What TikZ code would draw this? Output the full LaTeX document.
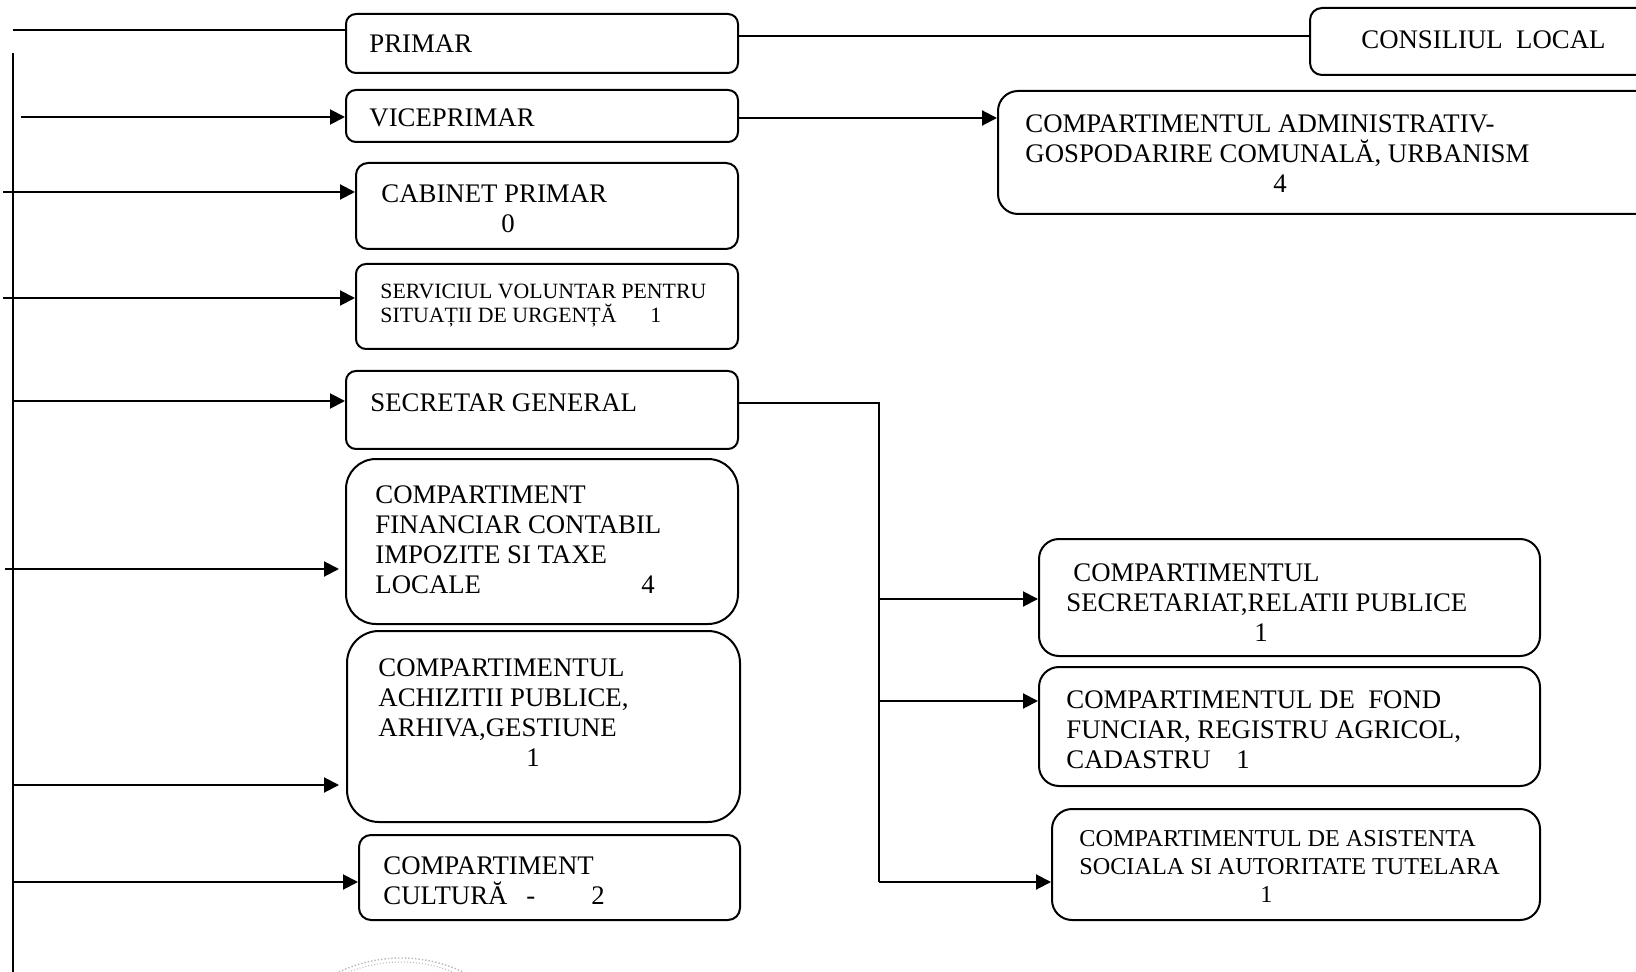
\documentclass[tikz,border=0pt]{standalone}
\usepackage{fontspec}
\setmainfont{Liberation Serif}
\usetikzlibrary{arrows.meta}

\begin{document}
\begin{tikzpicture}[x=0.5pt, y=-0.5pt,
        box/.style={draw, line width=1pt, rounded corners=5pt, inner sep=0pt},
        lbl/.style={anchor=north west, inner sep=0pt, align=left, font=\fontsize{13.4}{15}\selectfont},
        arr/.style={line width=1pt, -{Triangle[length=7.5pt, width=7.5pt]}}]
            \clip (0, 0) rectangle (1636, 972);
            \fill[white] (0, 0) rectangle (1636, 972);

            % left column
            \node[box, minimum width=196pt, minimum height=29.5pt] (primar) at (542, 43.5) {};
            \node[box, minimum width=196pt, minimum height=26pt] (vice) at (542, 116) {};
            \node[box, rounded corners=6pt, minimum width=191pt, minimum height=43pt] (cabinet) at (547, 206) {};
            \node[box, minimum width=191pt, minimum height=42.5pt] (serviciu) at (547, 306.5) {};
            \node[box, minimum width=196pt, minimum height=39pt] (secretar) at (542, 410) {};
            \node[box, rounded corners=15pt, minimum width=196pt, minimum height=82.5pt] (financiar) at (542, 541.5) {};
            \node[box, rounded corners=16pt, minimum width=196.5pt, minimum height=95.5pt] (achizitii) at (543.5, 726.5) {};
            \node[box, rounded corners=6pt, minimum width=190.5pt, minimum height=42.5pt] (cultura) at (549.5, 877.5) {};

            % right column
            \node[box, rounded corners=6pt, minimum width=185pt, minimum height=33.5pt] (consiliu) at (1495, 41.5) {};
            \node[box, rounded corners=10pt, minimum width=341pt, minimum height=61.5pt] (admin) at (1339, 152.5) {};
            \node[box, rounded corners=10pt, minimum width=250.5pt, minimum height=58.5pt] (secretariat) at (1289.5, 597.5) {};
            \node[box, rounded corners=10pt, minimum width=250.5pt, minimum height=59.5pt] (fond) at (1289.5, 726.5) {};
            \node[box, rounded corners=10pt, minimum width=244pt, minimum height=55.5pt] (asist) at (1296, 864.5) {};

            \node[lbl] (tprimar) at (369, 34.2) {PRIMAR};
            \node[lbl] (tconsiliu) at (1361, 30.8) {CONSILIUL~~LOCAL};
            \node[lbl] (tvice) at (369, 108.2) {VICEPRIMAR};
            \node[lbl] (tcabinet) at (381, 184.2) {CABINET PRIMAR\\\hspace*{60pt}0};
            \node[lbl, font=\fontsize{10.9}{12}\selectfont] (tserviciu) at (380, 283.8)
                {SERVICIUL VOLUNTAR PENTRU\\\makebox[135pt][l]{SITUAȚII DE URGENȚĂ}1};
            \node[lbl] (tsecretar) at (370, 393.2) {SECRETAR GENERAL};
            \node[lbl] (tfinanciar) at (375, 485.2)
                {COMPARTIMENT\\FINANCIAR CONTABIL\\IMPOZITE SI TAXE\\\makebox[133pt][l]{LOCALE}4};
            \node[lbl] (tachizitii) at (378, 658.2)
                {COMPARTIMENTUL\\ACHIZITII PUBLICE,\\ARHIVA,GESTIUNE\\\hspace*{74pt}1};
            \node[lbl] (tcultura) at (383, 856.2)
                {COMPARTIMENT\\\makebox[71.5pt][l]{CULTURĂ}\makebox[32.5pt][l]{-}2};
            \node[lbl] (tadmin) at (1025, 114.2)
                {COMPARTIMENTUL ADMINISTRATIV-\\GOSPODARIRE COMUNALĂ, URBANISM\\\hspace*{124pt}4};
            \node[lbl] (tsecretariat) at (1066, 563.2)
                {\hspace*{3.5pt}COMPARTIMENTUL\\SECRETARIAT,RELATII PUBLICE\\\hspace*{94pt}1};
            \node[lbl] (tfond) at (1066, 690.2)
                {COMPARTIMENTUL DE~~FOND\\FUNCIAR, REGISTRU AGRICOL,\\\makebox[85pt][l]{CADASTRU}1};
            \node[lbl, font=\fontsize{12.1}{14}\selectfont] (tasist) at (1079, 830)
                {COMPARTIMENTUL DE ASISTENTA\\SOCIALA SI AUTORITATE TUTELARA\\\hspace*{90.5pt}1};

            % left spine
            \coordinate (topL) at (12.5, 30);
            \coordinate (spineTop) at (12.5, 53);
            \coordinate (spineBot) at (12.5, 972);
            \draw[line width=1pt] (topL) -- (primar.west |- topL);
            \draw[line width=1pt] (spineTop) -- (spineBot);

            \foreach \b/\sx/\sy/\gap in {vice/21/117/0, cabinet/3/192/0, serviciu/3/298/0,
                    secretar/12.5/401/0, financiar/5/569/3, achizitii/12.5/785/3.5, cultura/12.5/882/0} {
                \coordinate (s\b) at (\sx, \sy);
                \draw[arr, shorten >=\gap pt] (s\b) -- (\b.west |- s\b);
            }

            \coordinate (pc) at ([yshift=3.5pt]primar.east);
            \draw[line width=1pt] (pc) -- (consiliu.west |- pc);
            \draw[arr] (vice.east |- 0, 118) -- (admin.west |- 0, 118);

            % secretar general bus
            \coordinate (sg) at ([yshift=3.5pt]secretar.east);
            \coordinate (b1) at (878.5, 599);
            \coordinate (b2) at (878.5, 701);
            \coordinate (b3) at (878.5, 882);
            \draw[line width=1pt] (sg) -| (b3);
            \draw[arr] (b1) -- (secretariat.west |- b1);
            \draw[arr] (b2) -- (fond.west |- b2);
            \draw[arr] (b3) -- (asist.west |- b3);

            % stamp
            \draw[gray!55, line width=0.7pt, densely dotted] (401, 1102) circle[radius=72pt];
            \draw[gray!55, line width=0.5pt, densely dotted] (401, 1102) circle[radius=70pt];
        \end{tikzpicture}
\end{document}
